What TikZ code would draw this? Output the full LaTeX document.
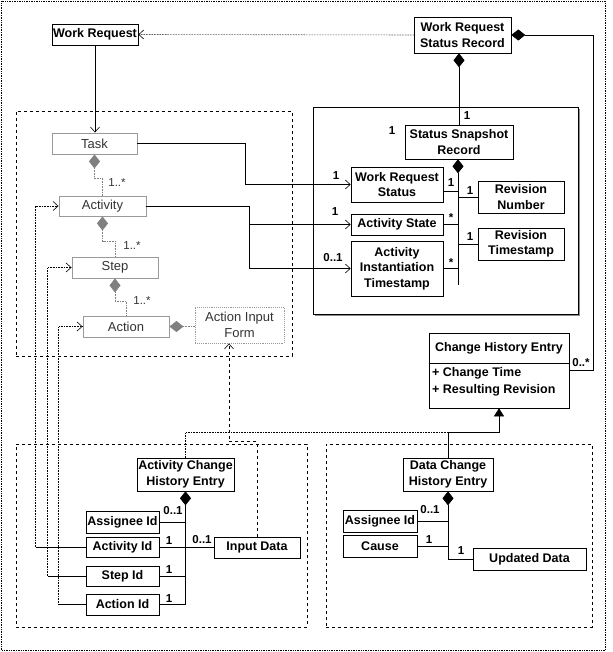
\documentclass[tikz,border=0pt]{standalone}
\usepackage{fontspec}
\setmainfont{Liberation Sans}
\usetikzlibrary{arrows.meta,calc,shadows}
\begin{document}
\begin{tikzpicture}[x=1pt,y=-1pt,
  box/.style={draw=black, fill=white, line width=0.6pt, inner sep=0pt, align=center,
    font=\bfseries\fontsize{12.5}{15.5}\selectfont},
  gbox/.style={draw=black!40, fill=white, line width=0.9pt, inner sep=0pt, align=center,
    text=black!80, font=\fontsize{13}{15.5}\selectfont},
  pkg/.style={draw=black, dashed, line width=0.6pt, inner sep=0pt},
  conn/.style={line width=0.6pt},
  openarr/.style={-{Straight Barb[length=5pt,width=9pt]}},
  comp/.style={{Diamond[length=14pt,width=11pt]}-},
  gcomp/.style={draw=black!50, densely dotted, {Diamond[length=14pt,width=11pt,fill=black!50]}-},
  mult/.style={font=\bfseries\fontsize{11.5}{12}\selectfont, inner sep=0pt},
  gmult/.style={font=\fontsize{11.5}{12}\selectfont, text=black!80, inner sep=0pt},
]
\useasboundingbox (0,0) rectangle (612,652);
% outer frame
\draw[densely dotted, line width=0.7pt] (1.5,1.5) rectangle (605.5,650);

% packages and group
\node[pkg, minimum width=276pt, minimum height=245pt] (pkgL) at (154,233.5) {};
\node[pkg, minimum width=291pt, minimum height=183pt] (pkgBL) at (161.5,535.5) {};
\node[pkg, minimum width=266pt, minimum height=183pt] (pkgBR) at (459,535.5) {};
\node[draw=black, fill=white, line width=0.6pt, inner sep=0pt, minimum width=265pt, minimum height=207pt,
  drop shadow={shadow xshift=2pt, shadow yshift=-2pt, fill=black!45, opacity=1}] (grp) at (445.5,210.5) {};

% top boxes
\node[box, minimum width=86pt, minimum height=21pt] (wr) at (95,34.5) {Work Request};
\node[box, minimum width=97pt, minimum height=36pt] (wrsr) at (462.5,35) {Work Request\\Status Record};
\node[box, minimum width=108pt, minimum height=34pt] (ssr) at (459,142) {Status Snapshot\\Record};
\node[box, minimum width=92pt, minimum height=35pt] (wrs) at (397,184.5) {Work Request\\Status};
\node[box, minimum width=86pt, minimum height=32pt] (rn) at (521,197) {Revision\\Number};
\node[box, minimum width=92pt, minimum height=21pt] (as) at (397,224.5) {Activity State};
\node[box, minimum width=86pt, minimum height=32pt] (rt) at (521,244) {Revision\\Timestamp};
\node[box, minimum width=92pt, minimum height=55pt] (ait) at (397,268.5) {Activity\\Instantiation\\Timestamp};

% change history entry (class with attributes)
\node[box, minimum width=140pt, minimum height=75pt] (che) at (499,370.5) {};
\draw[conn] (che.west |- 0,363) -- (che.east |- 0,363);
\node[font=\bfseries\fontsize{12.5}{15}\selectfont, inner sep=0pt] (chet) at (499,348) {Change History Entry};
\node[font=\bfseries\fontsize{12.5}{17}\selectfont, inner sep=0pt, anchor=north west, align=left] (chea) at (432,367) {+ Change Time\\+ Resulting Revision};

% left gray boxes
\node[gbox, minimum width=85pt, minimum height=21pt] (task) at (94.5,143.5) {Task};
\node[gbox, minimum width=87pt, minimum height=20pt] (act) at (102.5,206) {Activity};
\node[gbox, minimum width=86pt, minimum height=21pt] (step) at (115,267.5) {Step};
\node[gbox, minimum width=86pt, minimum height=21pt] (action) at (126,326.5) {Action};
\node[gbox, densely dotted, minimum width=89pt, minimum height=36pt] (aif) at (239.5,325) {Action Input\\Form};

% bottom-left boxes
\node[box, minimum width=97pt, minimum height=33pt] (ache) at (185.5,474.5) {Activity Change\\History Entry};
\node[box, minimum width=73pt, minimum height=22pt] (asg1) at (122.5,522) {Assignee Id};
\node[box, minimum width=73pt, minimum height=20pt] (actid) at (122.5,547) {Activity Id};
\node[box, minimum width=86pt, minimum height=21pt] (indata) at (257,547.5) {Input Data};
\node[box, minimum width=73pt, minimum height=20pt] (stepid) at (122.5,576) {Step Id};
\node[box, minimum width=73pt, minimum height=21pt] (actionid) at (122.5,604.5) {Action Id};

% bottom-right boxes
\node[box, minimum width=90pt, minimum height=33pt] (dche) at (448,474.5) {Data Change\\History Entry};
\node[box, minimum width=74pt, minimum height=22pt] (asg2) at (380,521) {Assignee Id};
\node[box, minimum width=74pt, minimum height=22pt] (cause) at (380,546) {Cause};
\node[box, minimum width=113pt, minimum height=22pt] (upd) at (529.5,559) {Updated Data};

% ---- connectors ----
\draw[conn, openarr] (wr.south) -- (wr.south |- task.north);
\draw[conn, densely dotted, openarr] (wrsr.west) -- (wr.east);
\draw[conn, comp] (wrsr.east) -- ++(82,0) |- (che.east);
\draw[conn, comp] (wrsr.south -| ssr.north) -- (ssr.north);

% status snapshot composition
\coordinate (spB) at ($(ssr.south)+(-1,126)$);
\draw[conn, comp] ([xshift=-1pt]ssr.south) -- (spB);
\draw[conn] ([yshift=-6.5pt]wrs.east) -- ([yshift=-6.5pt]wrs.east -| spB);
\draw[conn] (rn.west) -- (rn.west -| spB);
\draw[conn] (as.east) -- (as.east -| spB);
\draw[conn] (rt.west) -- (rt.west -| spB);
\draw[conn] (ait.east) -- (ait.east -| spB);

% task / activity to state boxes
\draw[conn, openarr] (task.east) -- ++(108,0) |- (wrs.west);
\draw[conn, openarr] (act.east) -- ++(103,0) |- (as.west);
\draw[conn, openarr] (act.east) -- ++(103,0) |- (ait.west);

% gray compositions
\draw[conn, gcomp] (task.south) -- ++(0,24) -| (act.north);
\draw[conn, gcomp] (act.south) -- ++(0,25) -| (step.north);
\draw[conn, gcomp] (step.south) -- ++(0,23) -| (action.north);
\draw[conn, gcomp] (action.east) -- (action.east -| aif.west);

% activity change history entry composition
\draw[conn, comp] (ache.south) -- (ache.south |- actionid.east);
\draw[conn] (asg1.east) -- (asg1.east -| ache.south);
\draw[conn] (actid.east) -- (actid.east -| indata.west);
\draw[conn] (stepid.east) -- (stepid.east -| ache.south);
\draw[conn] (actionid.east) -- (actionid.east -| ache.south);

% id references back to activity / step / action
\draw[conn] (actid.west) -- ++(-50,0) coordinate (ca);
\draw[conn, densely dotted, openarr] (ca) |- (act.west);
\draw[conn] (stepid.west) -- ++(-38,0) coordinate (cs);
\draw[conn, densely dotted, openarr] (cs) |- (step.west);
\draw[conn] (actionid.west) -- ++(-27,0) coordinate (cc);
\draw[conn, densely dotted, openarr] (cc) |- (action.west);

% dependency input data -> action input form
\draw[conn, dashed, openarr] (indata.north) -- ++(0,-95) -| ([xshift=-10.5pt]aif.south);

% generalization
\draw[conn, -{Triangle[length=8pt,width=10pt]}] (dche.north) -- ++(0,-25) coordinate (gj) -| (che.south);
\draw[conn, densely dotted] (ache.north) |- (gj);

% data change history entry composition
\draw[conn, comp] (dche.south) |- (upd.west);
\draw[conn] (asg2.east) -- (asg2.east -| dche.south);
\draw[conn] (cause.east) -- (cause.east -| dche.south);

% ---- multiplicities ----
\node[mult] (l1) at (467,116) {1};
\node[mult] (l2) at (392,131) {1};
\node[mult] (l3) at (336,176) {1};
\node[mult] (l4) at (451,183) {1};
\node[mult] (l5) at (470,191) {1};
\node[mult] (l6) at (335,212) {1};
\node[mult] (l7) at (451,218) {*};
\node[mult] (l8) at (470,237) {1};
\node[mult] (l9) at (333,258) {0..1};
\node[mult] (l10) at (451,263) {*};
\node[mult] (l11) at (581,363) {0..*};
\node[mult] (l12) at (173,511) {0..1};
\node[mult] (l13) at (169,541) {1};
\node[mult] (l14) at (202,540) {0..1};
\node[mult] (l15) at (169,570) {1};
\node[mult] (l16) at (169,599) {1};
\node[mult] (l17) at (430,510) {0..1};
\node[mult] (l18) at (429,540) {1};
\node[mult] (l19) at (461,551) {1};
\node[gmult] (g1) at (117,183) {1..*};
\node[gmult] (g2) at (132,246) {1..*};
\node[gmult] (g3) at (142,301) {1..*};
\end{tikzpicture}
\end{document}
